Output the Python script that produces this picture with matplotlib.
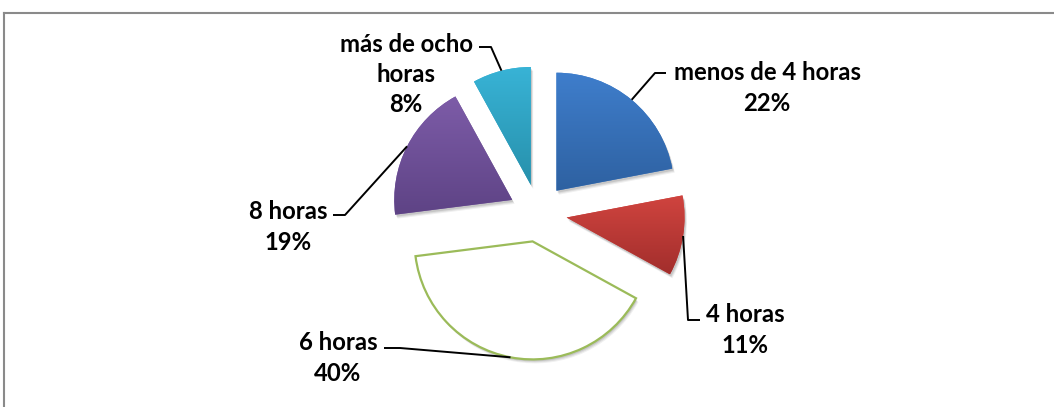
import matplotlib
matplotlib.use("Agg")
import matplotlib.pyplot as plt
import numpy as np
from matplotlib.patches import Wedge
from matplotlib.colors import LinearSegmentedColormap

# ---- data ----
categories = ["menos de 4 horas", "4 horas", "6 horas", "8 horas", "más de ocho horas"]
percentages = [22, 11, 40, 19, 8]
label_names = [["menos de 4 horas"], ["4 horas"], ["6 horas"], ["8 horas"], ["más de ocho", "horas"]]

# ---- styling ----
grad_top = ["#3F7ECC", "#D0443F", "#FFFFFF", "#7D5CA8", "#38B3D6"]
grad_bot = ["#2E61A1", "#A22E2C", "#FFFFFF", "#5E4385", "#2790AB"]
edge_cols = ["none", "none", "#9BBB59", "none", "none"]

W, H = 1054, 407
R_PX = 118.0
CX, CY = 538.0, 213.0


def px(x, y):
    """pixel (from top-left) -> data units (radius = 1)"""
    return (x - CX) / R_PX, (CY - y) / R_PX


fig = plt.figure(figsize=(W / 100, H / 100), dpi=100)
ax = fig.add_axes([0, 0, 1, 1])

wedges, _ = ax.pie(percentages, startangle=90, counterclock=False, radius=1,
                   center=(0, 0), explode=[0.245] * len(percentages),
                   colors=grad_top, wedgeprops=dict(linewidth=0))

for i, w in enumerate(wedges):
    w.set_zorder(3)
    # soft shadow
    for k, (off, a) in enumerate([(4, 0.06), (3, 0.08), (2, 0.10)]):
        sh = Wedge((w.center[0] + off / R_PX * 0.6, w.center[1] - off / R_PX),
                   w.r, w.theta1, w.theta2, facecolor="#000000", alpha=a,
                   linewidth=0, zorder=1)
        ax.add_patch(sh)
    if edge_cols[i] != "none":
        w.set_facecolor("white")
        w.set_edgecolor(edge_cols[i])
        w.set_linewidth(1.6)
        continue
    ext = w.get_path().get_extents()
    cmap = LinearSegmentedColormap.from_list("g%d" % i, [grad_bot[i], grad_top[i]])
    grad = np.linspace(0, 1, 256).reshape(-1, 1)
    im = ax.imshow(grad, cmap=cmap, origin="lower", aspect="auto",
                   extent=(ext.x0, ext.x1, ext.y0, ext.y1), zorder=4,
                   interpolation="bilinear")
    im.set_clip_path(w)

# ---- labels & leader lines (pixel positions of the label layout) ----
label_centers = [(767, 73), (745, 315), (338, 343), (288, 212), (406, 44)]
elbows = [[(666, 73), (655, 73)],
          [(700, 320), (688, 320)],
          [(384, 348), (400, 348)],
          [(333, 215), (345, 215)],
          [(479, 47), (491, 47)]]
LINE_STEP = 30.5

for i, w in enumerate(wedges):
    mid = np.deg2rad((w.theta1 + w.theta2) / 2)
    ax_pt = (w.center[0] + w.r * np.cos(mid), w.center[1] + w.r * np.sin(mid))
    pts = [px(*p) for p in elbows[i]] + [ax_pt]
    xs, ys = zip(*pts)
    ax.plot(xs, ys, color="black", lw=1.4, zorder=6, solid_capstyle="butt")
    lines = label_names[i] + ["%d%%" % percentages[i]]
    lx, ly = label_centers[i]
    for j, t in enumerate(lines):
        x, y = px(lx, ly + j * LINE_STEP)
        ax.text(x, y, t, ha="center", va="center", fontsize=17.2,
                fontweight="bold", family=["Lato", "DejaVu Sans"], color="black",
                zorder=7)

# ---- chart frame (top and left border) ----
x0, y0 = px(4, 13)
x1, _ = px(W, 13)
_, yb = px(4, H)
ax.plot([x0, x1], [y0, y0], color="#8A8A8A", lw=1.5, zorder=0)
ax.plot([x0, x0], [y0, yb], color="#8A8A8A", lw=1.5, zorder=0)

ax.set_xlim(*sorted([px(0, 0)[0], px(W, 0)[0]]))
ax.set_ylim(px(0, H)[1], px(0, 0)[1])
ax.set_aspect("equal")
ax.axis("off")

fig.savefig("out.png", dpi=100)
